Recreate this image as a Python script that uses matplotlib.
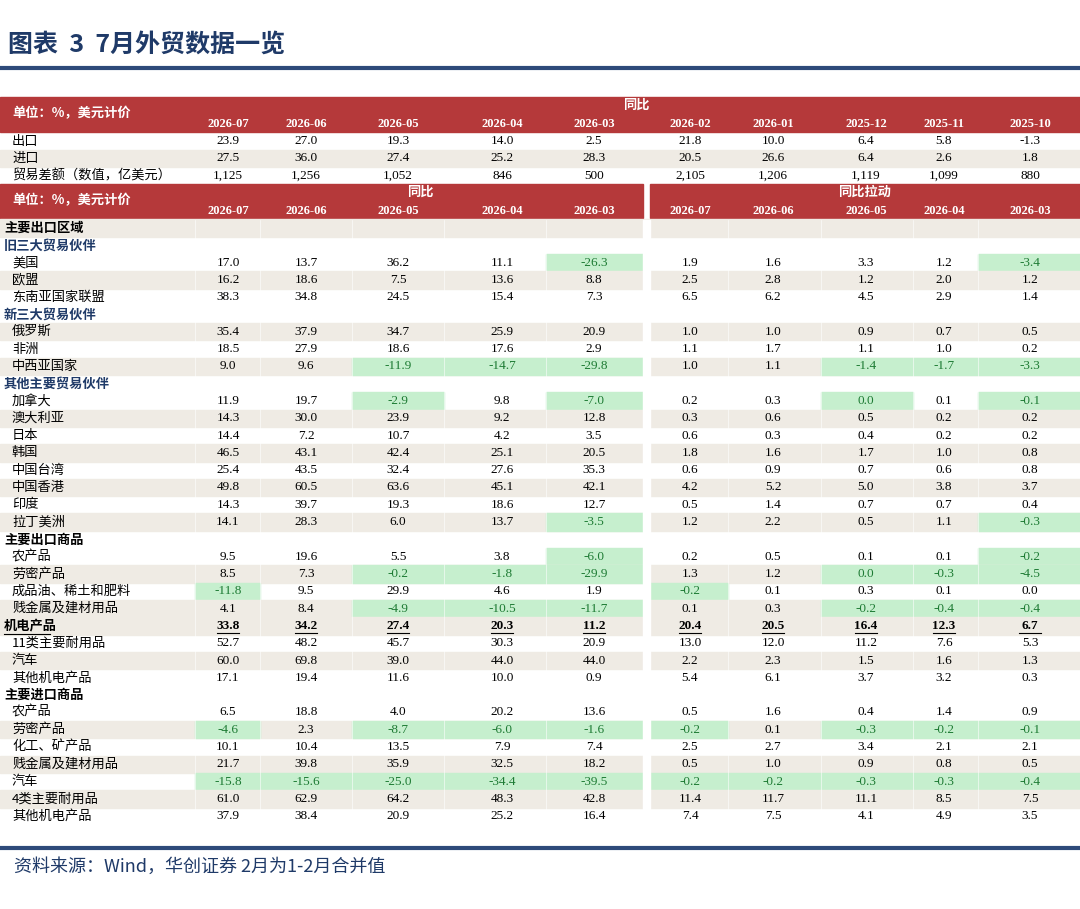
import matplotlib.pyplot as plt
from matplotlib.patches import Rectangle

plt.rcParams['font.family'] = ['Noto Sans CJK SC', 'DejaVu Sans']

# data
top_cols = ['2026-07', '2026-06', '2026-05', '2026-04', '2026-03',
            '2026-02', '2026-01', '2025-12', '2025-11', '2025-10']
top_labels = ['出口', '进口', '贸易差额（数值，亿美元）']
top_vals = [
    ['23.9', '27.0', '19.3', '14.0', '2.5', '21.8', '10.0', '6.4', '5.8', '-1.3'],
    ['27.5', '36.0', '27.4', '25.2', '28.3', '20.5', '26.6', '6.4', '2.6', '1.8'],
    ['1,125', '1,256', '1,052', '846', '500', '2,105', '1,206', '1,119', '1,099', '880'],
]
low_cols = ['2026-07', '2026-06', '2026-05', '2026-04', '2026-03']
# (label, kind, yoy values, pull values)
rows = [
    ('主要出口区域', 'cat', None, None),
    ('旧三大贸易伙伴', 'sub', None, None),
    ('美国', 'item', [17.0, 13.7, 36.2, 11.1, -26.3], [1.9, 1.6, 3.3, 1.2, -3.4]),
    ('欧盟', 'item', [16.2, 18.6, 7.5, 13.6, 8.8], [2.5, 2.8, 1.2, 2.0, 1.2]),
    ('东南亚国家联盟', 'item', [38.3, 34.8, 24.5, 15.4, 7.3], [6.5, 6.2, 4.5, 2.9, 1.4]),
    ('新三大贸易伙伴', 'sub', None, None),
    ('俄罗斯', 'item', [35.4, 37.9, 34.7, 25.9, 20.9], [1.0, 1.0, 0.9, 0.7, 0.5]),
    ('非洲', 'item', [18.5, 27.9, 18.6, 17.6, 2.9], [1.1, 1.7, 1.1, 1.0, 0.2]),
    ('中西亚国家', 'item', [9.0, 9.6, -11.9, -14.7, -29.8], [1.0, 1.1, -1.4, -1.7, -3.3]),
    ('其他主要贸易伙伴', 'sub', None, None),
    ('加拿大', 'item', [11.9, 19.7, -2.9, 9.8, -7.0], [0.2, 0.3, 0.0, 0.1, -0.1]),
    ('澳大利亚', 'item', [14.3, 30.0, 23.9, 9.2, 12.8], [0.3, 0.6, 0.5, 0.2, 0.2]),
    ('日本', 'item', [14.4, 7.2, 10.7, 4.2, 3.5], [0.6, 0.3, 0.4, 0.2, 0.2]),
    ('韩国', 'item', [46.5, 43.1, 42.4, 25.1, 20.5], [1.8, 1.6, 1.7, 1.0, 0.8]),
    ('中国台湾', 'item', [25.4, 43.5, 32.4, 27.6, 35.3], [0.6, 0.9, 0.7, 0.6, 0.8]),
    ('中国香港', 'item', [49.8, 60.5, 63.6, 45.1, 42.1], [4.2, 5.2, 5.0, 3.8, 3.7]),
    ('印度', 'item', [14.3, 39.7, 19.3, 18.6, 12.7], [0.5, 1.4, 0.7, 0.7, 0.4]),
    ('拉丁美洲', 'item', [14.1, 28.3, 6.0, 13.7, -3.5], [1.2, 2.2, 0.5, 1.1, -0.3]),
    ('主要出口商品', 'cat', None, None),
    ('农产品', 'item', [9.5, 19.6, 5.5, 3.8, -6.0], [0.2, 0.5, 0.1, 0.1, -0.2]),
    ('劳密产品', 'item', [8.5, 7.3, -0.2, -1.8, -29.9], [1.3, 1.2, 0.0, -0.3, -4.5]),
    ('成品油、稀土和肥料', 'item', [-11.8, 9.5, 29.9, 4.6, 1.9], [-0.2, 0.1, 0.3, 0.1, 0.0]),
    ('贱金属及建材用品', 'item', [4.1, 8.4, -4.9, -10.5, -11.7], [0.1, 0.3, -0.2, -0.4, -0.4]),
    ('机电产品', 'bold', [33.8, 34.2, 27.4, 20.3, 11.2], [20.4, 20.5, 16.4, 12.3, 6.7]),
    ('11类主要耐用品', 'item', [52.7, 48.2, 45.7, 30.3, 20.9], [13.0, 12.0, 11.2, 7.6, 5.3]),
    ('汽车', 'item', [60.0, 69.8, 39.0, 44.0, 44.0], [2.2, 2.3, 1.5, 1.6, 1.3]),
    ('其他机电产品', 'item', [17.1, 19.4, 11.6, 10.0, 0.9], [5.4, 6.1, 3.7, 3.2, 0.3]),
    ('主要进口商品', 'cat', None, None),
    ('农产品', 'item', [6.5, 18.8, 4.0, 20.2, 13.6], [0.5, 1.6, 0.4, 1.4, 0.9]),
    ('劳密产品', 'item', [-4.6, 2.3, -8.7, -6.0, -1.6], [-0.2, 0.1, -0.3, -0.2, -0.1]),
    ('化工、矿产品', 'item', [10.1, 10.4, 13.5, 7.9, 7.4], [2.5, 2.7, 3.4, 2.1, 2.1]),
    ('贱金属及建材用品', 'item', [21.7, 39.8, 35.9, 32.5, 18.2], [0.5, 1.0, 0.9, 0.8, 0.5]),
    ('汽车', 'item', [-15.8, -15.6, -25.0, -34.4, -39.5], [-0.2, -0.2, -0.3, -0.3, -0.4]),
    ('4类主要耐用品', 'item', [61.0, 62.9, 64.2, 48.3, 42.8], [11.4, 11.7, 11.1, 8.5, 7.5]),
    ('其他机电产品', 'item', [37.9, 38.4, 20.9, 25.2, 16.4], [7.4, 7.5, 4.1, 4.9, 3.5]),
]
beige_rows = {0, 3, 6, 8, 11, 13, 15, 17, 20, 22, 23, 25, 29, 31, 33}
extra_green = {(10, 7), (20, 7)}   # zero pulls shown highlighted

RED = '#B5393A'
BEIGE = '#EFEBE4'
GREEN = '#C6EFCE'
GTXT = '#1E7B34'
NAVY = '#1F3A68'
SERIF = ['Liberation Serif', 'Noto Sans CJK SC']

fig = plt.figure(figsize=(10.8, 9.09), dpi=100)
ax = fig.add_axes([0, 0, 1, 1])
ax.set_xlim(0, 1080)
ax.set_ylim(909, 0)
ax.axis('off')

edges = [195, 260, 352, 444, 546, 643, 650, 728, 821, 913, 978, 1080]
cells = [(195, 260), (260, 352), (352, 444), (444, 546), (546, 643),
         (650, 728), (728, 821), (821, 913), (913, 978), (978, 1080)]
top_centers = [228, 306, 398, 502, 594, 690, 773, 866, 944, 1030]
rh = 17.3

# title
ax.text(8, 45, '图表  3  7月外贸数据一览', fontsize=18, fontweight='bold', color=NAVY, va='center')
ax.plot([0, 1080], [68, 68], color='#2E4A7A', lw=3)

# top header
ax.add_patch(Rectangle((0, 97), 1080, 35, color=RED))
ax.text(12, 113, '单位：%，美元计价', color='white', fontsize=9.5, fontweight='bold', va='center')
ax.text(636, 105, '同比', color='white', fontsize=9.5, fontweight='bold', va='center', ha='center')
for x, c in zip(top_centers, top_cols):
    ax.text(x, 124, c, color='white', fontsize=9, fontweight='bold', ha='center', va='center', family=SERIF)
for i, (lab, vals) in enumerate(zip(top_labels, top_vals)):
    y = 141 + i * rh
    if i == 1:
        ax.add_patch(Rectangle((0, y - rh / 2), 1080, rh, color=BEIGE))
    ax.text(12, y, lab, fontsize=9.5, va='center')
    for x, v in zip(top_centers, vals):
        ax.text(x, y, v, fontsize=9.5, ha='center', va='center', family=SERIF)

# lower header
ax.add_patch(Rectangle((0, 184), 643, 34, color=RED))
ax.add_patch(Rectangle((650, 184), 430, 34, color=RED))
ax.text(12, 200, '单位：%，美元计价', color='white', fontsize=9.5, fontweight='bold', va='center')
ax.text(420, 192, '同比', color='white', fontsize=9.5, fontweight='bold', va='center', ha='center')
ax.text(865, 192, '同比拉动', color='white', fontsize=9.5, fontweight='bold', va='center', ha='center')
for x, c in zip(top_centers, low_cols + low_cols):
    ax.text(x, 211, c, color='white', fontsize=9, fontweight='bold', ha='center', va='center', family=SERIF)

for i, (lab, kind, yoy, pull) in enumerate(rows):
    y = 228 + i * rh
    if i in beige_rows:
        ax.add_patch(Rectangle((0, y - rh / 2), 1080, rh, color=BEIGE))
    if kind == 'cat':
        ax.text(4, y, lab, fontsize=9.5, fontweight='bold', va='center')
    elif kind == 'sub':
        ax.text(4, y, lab, fontsize=9.5, fontweight='bold', color=NAVY, va='center')
    elif kind == 'bold':
        ax.text(4, y, lab, fontsize=9.5, fontweight='bold', style='italic', va='center')
        ax.plot([4, 50], [y + 8, y + 8], color='black', lw=0.8)
    else:
        ax.text(12, y, lab, fontsize=9.5, va='center')
    if yoy is None:
        continue
    for j, v in enumerate(yoy + pull):
        a, b = cells[j]
        green = v < 0 or (i, j) in extra_green
        if green:
            ax.add_patch(Rectangle((a, y - rh / 2), b - a, rh, color=GREEN))
        kw = dict(fontsize=9.5, ha='center', va='center', family=SERIF,
                  color=GTXT if green else 'black')
        if kind == 'bold':
            kw['fontweight'] = 'bold'
            ax.plot([top_centers[j] - 11, top_centers[j] + 11], [y + 7.5, y + 7.5], color='black', lw=0.8)
        ax.text(top_centers[j], y, f'{v:.1f}', **kw)

# faint grid separators
for x in edges:
    ax.plot([x, x], [220, 825], color='white', lw=0.5, alpha=0.8)
ax.add_patch(Rectangle((643, 220), 7, 605, color='white', zorder=3))

ax.plot([0, 1080], [848, 848], color='#2E4A7A', lw=3)
ax.text(14, 867, '资料来源：Wind，华创证券 2月为1-2月合并值', fontsize=13, style='italic',
        color=NAVY, va='center')

fig.savefig('out.png', dpi=100)
